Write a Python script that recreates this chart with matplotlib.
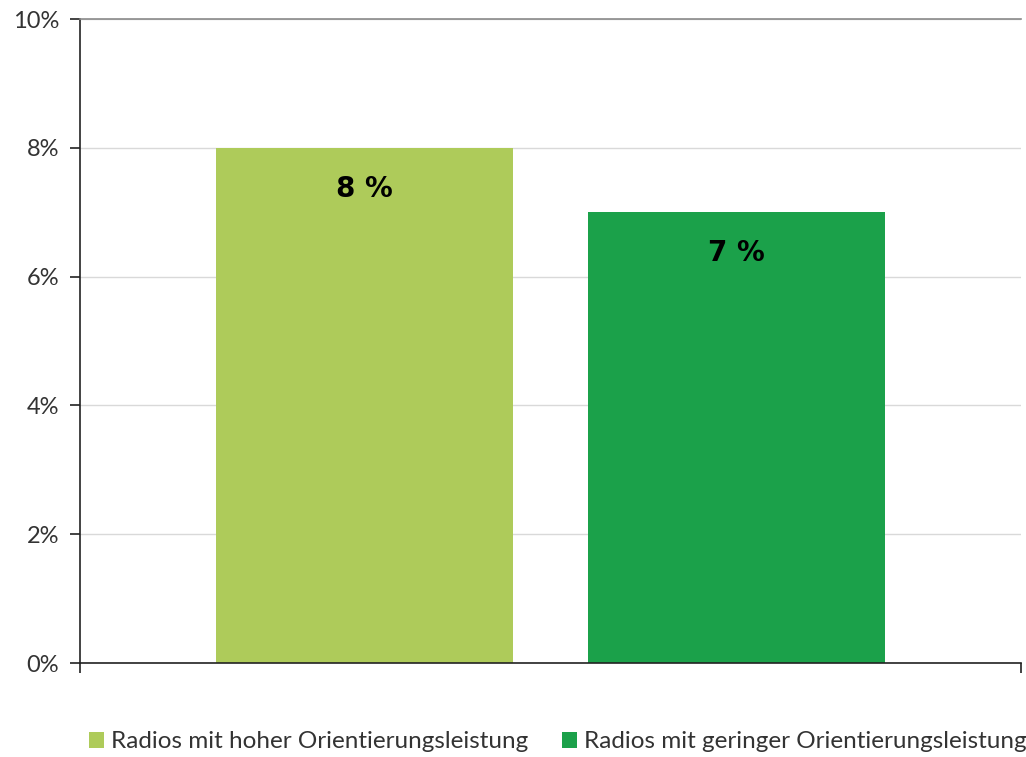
import matplotlib
matplotlib.use("Agg")
import matplotlib.pyplot as plt
from matplotlib.patches import Patch
from matplotlib.ticker import FuncFormatter

series = ["Radios mit hoher Orientierungsleistung", "Radios mit geringer Orientierungsleistung"]
values = [8, 7]
value_labels = ["8 %", "7 %"]
colors = ["#AECB5A", "#1BA14A"]
yticks = [0, 2, 4, 6, 8, 10]

plt.rcParams["font.family"] = ["Lato", "DejaVu Sans"]

fig = plt.figure(figsize=(10.26, 7.57), dpi=100)
ax = fig.add_axes([80 / 1026, 1 - 663 / 757, 941 / 1026, 644 / 757])

width = 0.3156
offsets = [-0.198, 0.198]
for off, v, c, lab in zip(offsets, values, colors, value_labels):
    ax.bar(off, v, width=width, color=c, zorder=2)
    ax.annotate(lab, (off, v), xytext=(0, -29.5), textcoords="offset points",
                ha="center", va="center", fontsize=20, fontweight="bold",
                color="black", family="DejaVu Sans")

ax.set_xlim(-0.5, 0.5)
ax.set_ylim(0, 10)
ax.set_yticks(yticks)
ax.yaxis.set_major_formatter(FuncFormatter(lambda v, p: f"{int(v)}%"))
ax.set_xticks([-0.5, 0.5])
ax.set_xticklabels([])
ax.tick_params(axis="x", length=7, width=1.2, color="#222222", direction="out")
ax.tick_params(axis="y", length=7, width=1.2, color="#222222", labelsize=17,
               labelcolor="#333333", pad=8)
ax.grid(axis="y", color="#d9d9d9", linewidth=1, zorder=0)
ax.set_axisbelow(True)

ax.spines["right"].set_visible(False)
ax.spines["top"].set_color("#8a8a8a")
ax.spines["top"].set_linewidth(1.2)
for s in ["left", "bottom"]:
    ax.spines[s].set_color("#222222")
    ax.spines[s].set_linewidth(1.2)

handles = [Patch(facecolor=c, label=s) for s, c in zip(series, colors)]
fig.legend(handles=handles, loc="center", bbox_to_anchor=(558 / 1026, 1 - 742 / 757),
           ncol=2, frameon=False, fontsize=17.5, handlelength=0.6, handleheight=0.6,
           handletextpad=0.3, columnspacing=1.4, labelcolor="#333333")

fig.savefig("out.png", dpi=100)
